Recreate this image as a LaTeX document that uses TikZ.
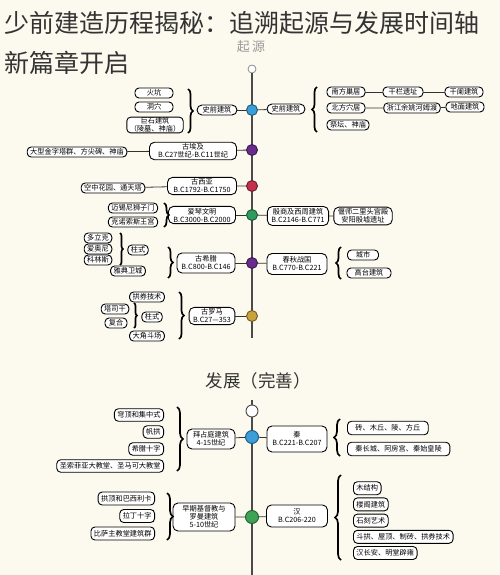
\documentclass[tikz,border=0pt]{standalone}
\usepackage{fontspec}
\setmainfont{Noto Sans CJK SC}
\usetikzlibrary{decorations.pathreplacing}
\definecolor{bgc}{HTML}{FCFAEF}
\definecolor{titc}{HTML}{333333}
\definecolor{axisc}{HTML}{4A4A4A}
\definecolor{cblue}{HTML}{3A9ED8}
\definecolor{cpurple}{HTML}{6A2C8C}
\definecolor{cred}{HTML}{C4304C}
\definecolor{cgreen}{HTML}{2F9A5E}
\definecolor{cgold}{HTML}{C9A23C}

\begin{document}
\begin{tikzpicture}[x=1pt, y=-1pt,
  item/.style={draw, rounded corners=4pt, fill=white, line width=.9pt, inner xsep=3pt, inner ysep=1pt,
    minimum height=10pt, font=\fontsize{7.2}{8}\selectfont, align=center},
  era/.style={item, rounded corners=5pt, inner xsep=4pt, inner ysep=1.5pt},
  tdot/.style={circle, draw=#1!55!black, fill=#1, line width=.9pt, minimum size=11pt, inner sep=0pt},
  link/.style={line width=.8pt, draw=black!80},
  brc/.style={decorate, decoration={brace, amplitude=5pt}, line width=1.7pt},
  axis/.style={line width=2.6pt, draw=axisc}]
\useasboundingbox[fill=bgc] (0,0) rectangle (500,575);

\node[anchor=west, inner sep=0, text=titc, font=\fontsize{25}{28}\selectfont] (title1) at (4,23) {少前建造历程揭秘：追溯起源与发展时间轴};
\node[anchor=west, inner sep=0, text=titc, font=\fontsize{25}{28}\selectfont] (title2) at (4,63) {新篇章开启};

% origin
\node[text=black!40, font=\fontsize{13}{14}\selectfont] (origin) at (251,47) {起\,源};
\node[circle, draw=black!45, fill=white, line width=.8pt, minimum size=8pt, inner sep=0pt] (top) at (252,69) {};
\coordinate (end1) at (252,338);
\draw[axis] (top.south) -- (end1);

\node[tdot=cblue] (d1) at (252,110) {};
\node[tdot=cpurple] (d2) at (252,150) {};
\node[tdot=cred] (d3) at (252,186) {};
\node[tdot=cgreen] (d4) at (252,215) {};
\node[tdot=cpurple] (d5) at (252,263) {};
\node[tdot=cgold] (d6) at (252,316) {};

% west
\node[era, minimum width=40pt] (wPre) at (217,110) {史前建筑};
\node[item, minimum width=38pt] (wPreA) at (154,93) {火坑};
\node[item, minimum width=38pt] (wPreB) at (154,107) {洞穴};
\node[item, minimum width=40pt, inner ysep=.5pt] (wPreC) at (155,125) {巨石建筑\\（陵墓、神庙）};
\draw[brc] (188,89) -- (188,133);

\node[era, minimum width=87pt] (wEgypt) at (193,151) {古埃及\\B.C27世纪-B.C11世纪};
\node[item] (wEgyptA) at (77,152) {大型金字塔群、方尖碑、神庙};

\node[era, minimum width=69pt] (wAsia) at (202,186) {古西亚\\B.C1792-B.C1750};
\node[item] (wAsiaA) at (113,188) {空中花园、通天塔};

\node[era, minimum width=67pt] (wAegean) at (202,215) {爱琴文明\\B.C3000-B.C2000};
\node[item, minimum width=40pt] (wAegeanA) at (133,208) {迈锡尼狮子门};
\node[item, minimum width=40pt] (wAegeanB) at (133,222) {克诺索斯王宫};
\draw[brc] (164,203) -- (164,227);

\node[era, minimum width=58pt, minimum height=20pt] (wGreece) at (206,263) {古希腊\\B.C800-B.C146};
\node[item] (wOrder) at (138,250) {柱式};
\node[item] (wAcro) at (128,271) {雅典卫城};
\draw[brc] (168,247) -- (168,278);
\node[item] (wDoric) at (98,238) {多立克};
\node[item] (wIonic) at (98,249) {爱奥尼};
\node[item] (wCor) at (98,260) {科林斯};
\draw[brc, decoration={amplitude=3pt}] (120,233) -- (120,265);

\node[era, minimum width=45pt] (wRome) at (212,316) {古罗马\\B.C27—353};
\node[item] (wArch) at (147,297) {拱券技术};
\node[item] (wOrder2) at (152,317) {柱式};
\node[item] (wColos) at (147,336) {大角斗场};
\draw[brc] (179,292) -- (179,339);
\node[item] (wTus) at (115,309) {塔司干};
\node[item, minimum width=22pt] (wComp) at (116,323) {复合};
\draw[brc, decoration={amplitude=3pt}] (134,303) -- (134,328);

\draw[link] (wPre) -- (d1);
\draw[link] (wEgyptA) -- (wEgypt) -- (d2);
\draw[link] (wAsiaA) -- (wAsia) -- (d3);
\draw[link] (wAegean) -- (d4);
\draw[link] (wGreece) -- (d5);
\draw[link] (wRome) -- (d6);

% china
\node[era, minimum width=38pt] (cPre) at (286,109) {史前建筑};
\draw[brc] (317,132) -- (317,87);
\node[item, minimum width=38pt] (cPreA) at (346,92) {南方巢居};
\node[item, minimum width=38pt] (cPreB) at (346,108) {北方穴居};
\node[item] (cPreC) at (348,125) {祭坛、神庙};
\node[item, minimum width=40pt] (cPreD) at (403,92) {干栏遗址};
\node[item] (cPreE) at (412,108) {浙江余姚河姆渡};
\node[item, minimum width=38pt] (cPreF) at (464,92) {干阑建筑};
\node[item, minimum width=38pt] (cPreG) at (465,107) {地面建筑};
\draw[link] (cPreA) -- (cPreD) -- (cPreF);
\draw[link] (cPreB) -- (cPreE) -- (cPreG);

\node[era, minimum width=60pt, minimum height=19pt] (cShang) at (298,216) {殷商及西周建筑\\B.C2146-B.C771};
\node[era, minimum width=53pt] (cShangA) at (363,216) {偃师二里头宫殿\\安阳殷墟遗址};

\node[era, minimum width=60pt, minimum height=21pt] (cZhou) at (297,264) {春秋战国\\B.C770-B.C221};
\draw[brc] (341,279) -- (341,247);
\node[item, minimum width=31pt] (cCity) at (363,255) {城市};
\node[item, minimum width=44pt] (cTerr) at (369,273) {高台建筑};

\draw[link] (d1) -- (cPre);
\draw[link] (d4) -- (cShang) -- (cShangA);
\draw[link] (d5) -- (cZhou);

% development
\node[text=titc, font=\fontsize{17.5}{19}\selectfont] (growth) at (258,381) {发展（完善）};
\coordinate (start2) at (252,400);
\coordinate (end2) at (252,575);
\draw[axis] (start2) -- (end2);
\node[circle, draw=axisc, fill=white, line width=.9pt, minimum size=12pt, inner sep=0pt] (mid) at (252,411) {};
\node[tdot=cblue, minimum size=13pt] (d7) at (252,437) {};
\node[tdot=cgreen!90!lime, minimum size=13pt] (d8) at (252,517) {};

\node[era, minimum width=48pt, minimum height=20pt] (wByz) at (211,439) {拜占庭建筑\\4-15世纪};
\draw[brc, decoration={amplitude=6pt}] (177,407) -- (177,471);
\foreach \t [count=\i] in {穹顶和集中式,帆拱,希腊十字,圣索菲亚大教堂、圣马可大教堂}
  \node[item, anchor=east, minimum height=12.5pt] (byz\i) at (164,{398+17*\i}) {\t};

\node[era, minimum width=62pt, minimum height=28pt] (wEarly) at (204,517) {早期基督教与\\罗曼建筑\\5-10世纪};
\draw[brc, decoration={amplitude=6pt}] (167,493) -- (167,540);
\foreach \t [count=\i] in {拱顶和巴西利卡,拉丁十字,比萨主教堂建筑群}
  \node[item, anchor=east, minimum height=13pt] (early\i) at (155,{481+17.5*\i}) {\t};

\node[era, minimum width=60pt, minimum height=26pt] (cQin) at (297,439) {秦\\B.C221-B.C207};
\draw[brc, decoration={amplitude=6pt}] (340,456) -- (340,419);
\foreach \t [count=\i] in {砖、木丘、陵、方丘,秦长城、阿房宫、秦始皇陵}
  \node[item, anchor=west, minimum height=13.5pt, inner xsep=8pt] (qin\i) at (347,{407+21*\i}) {\t};

\node[era, minimum width=61pt, minimum height=22pt] (cHan) at (297,516) {汉\\B.C206-220};
\draw[brc, decoration={amplitude=6pt}] (341,560) -- (341,475);
\foreach \t [count=\i] in {木结构,楼阁建筑,石刻艺术,斗拱、屋顶、制砖、拱券技术,汉长安、明堂辟雍}
  \node[item, anchor=west, minimum height=13pt] (han\i) at (353,{472+16.2*\i}) {\t};

\draw[link] (wByz) -- (d7) -- (cQin);
\draw[link] (wEarly) -- (d8) -- (cHan);
\end{tikzpicture}
\end{document}
